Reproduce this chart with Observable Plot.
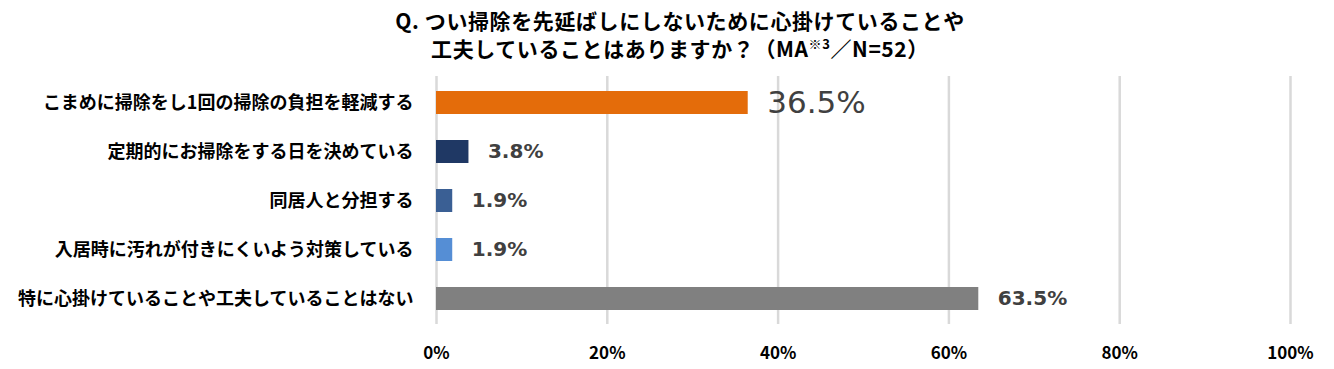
<!DOCTYPE html>
<html>
<head>
<meta charset="utf-8">
<script src="https://cdn.jsdelivr.net/npm/d3@7"></script>
<script src="https://cdn.jsdelivr.net/npm/@observablehq/plot@0.6"></script>
<style>
  html, body { margin: 0; padding: 0; background: #fff; }
  #wrap { width: 1334px; height: 369px; overflow: hidden; }
  #title {
    height: 70px; box-sizing: border-box; padding-top: 6px; padding-left: 26px;
    text-align: center; font-family: "Noto Sans CJK JP", sans-serif; font-weight: 700;
    font-size: 21px; line-height: 28px; color: #000; letter-spacing: 0.6px;
  }
  #title sup { font-size: 13px; line-height: 0; vertical-align: 8px; }
</style>
</head>
<body>
<div id="wrap">
  <div id="title">Q.&nbsp;つい掃除を先延ばしにしないために心掛けていることや<br>工夫していることはありますか？（MA<sup>※3</sup>／N=52）</div>
  <div id="chart"></div>
</div>
<script>
const categories = [
  "こまめに掃除をし1回の掃除の負担を軽減する",
  "定期的にお掃除をする日を決めている",
  "同居人と分担する",
  "入居時に汚れが付きにくいよう対策している",
  "特に心掛けていることや工夫していることはない"
];
const values = [36.5, 3.8, 1.9, 1.9, 63.5];
const colors = ["#E46C0A", "#1F3864", "#3A5F94", "#558ED5", "#808080"];
const xTicks = [0, 20, 40, 60, 80, 100];

const data = categories.map((c, i) => ({category: c, value: values[i], color: colors[i], idx: i}));
const first = data.filter(d => d.idx === 0);
const rest = data.filter(d => d.idx !== 0);

const chart = Plot.plot({
  width: 1334,
  height: 299,
  marginLeft: 436,
  marginRight: 44,
  marginTop: 6,
  marginBottom: 45,
  style: {fontFamily: "'Noto Sans CJK JP', sans-serif", background: "#fff"},
  x: {domain: [0, 100]},
  y: {domain: categories, paddingInner: 0.535, paddingOuter: 0.2675},
  marks: [
    Plot.gridX(xTicks, {stroke: "#d9d9d9", strokeOpacity: 1, strokeWidth: 2.5}),
    Plot.barX(data, {x: "value", y: "category", fill: "color"}),
    Plot.text(first, {x: "value", y: "category", text: d => d.value.toFixed(1) + "%", textAnchor: "start", dx: 19, fontSize: 31, fill: "#404040", fontFamily: "'DejaVu Sans', sans-serif"}),
    Plot.text(rest, {x: "value", y: "category", text: d => d.value.toFixed(1) + "%", textAnchor: "start", dx: 19, fontSize: 20, fontWeight: "bold", fill: "#404040", fontFamily: "'DejaVu Sans', sans-serif"}),
    Plot.axisX({ticks: xTicks, tickFormat: d => d + "%", tickSize: 0, tickPadding: 22, fontSize: 17, fontWeight: "bold", fill: "#000", label: null}),
    Plot.axisY({tickSize: 0, tickPadding: 23, fontSize: 18, fontWeight: "bold", fill: "#000", label: null})
  ]
});
document.getElementById("chart").appendChild(chart);
</script>
</body>
</html>
